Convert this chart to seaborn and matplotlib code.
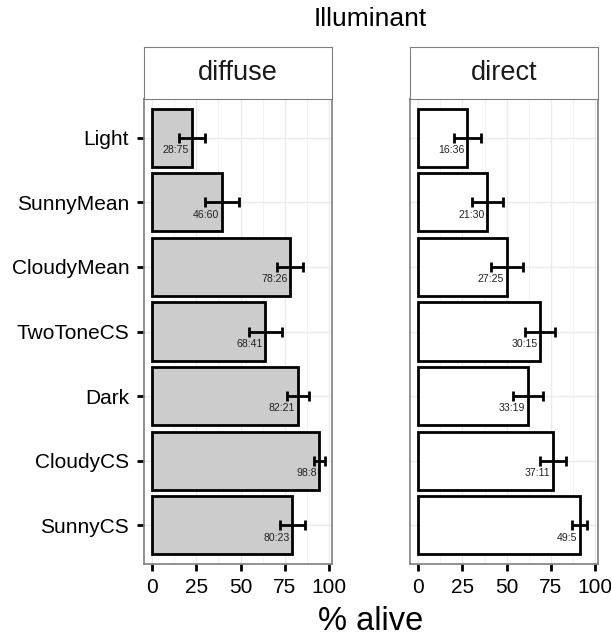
import matplotlib
matplotlib.use("Agg")
import matplotlib.pyplot as plt
import seaborn as sns
import numpy as np
import pandas as pd

# Data
conditions = ["Light", "SunnyMean", "CloudyMean", "TwoToneCS", "Dark", "CloudyCS", "SunnyCS"]

diffuse_alive = [22.5, 39.5, 78.0, 64.0, 82.3, 94.5, 79.3]
diffuse_err = [7.5, 9.7, 7.2, 9.2, 6.2, 3.0, 7.2]
diffuse_counts = ["28:75", "46:60", "78:26", "68:41", "82:21", "98:8", "80:23"]

direct_alive = [27.8, 39.0, 50.0, 68.8, 62.0, 76.0, 91.3]
direct_err = [7.7, 8.8, 9.1, 8.6, 8.5, 7.4, 4.2]
direct_counts = ["16:36", "21:30", "27:25", "30:15", "33:19", "37:11", "49:5"]

panels = [
    ("diffuse", diffuse_alive, diffuse_err, diffuse_counts, "#CCCCCC"),
    ("direct", direct_alive, direct_err, direct_counts, "white"),
]

sns.set_style("white")
plt.rcParams["font.family"] = ["Liberation Sans", "DejaVu Sans"]

W, H = 611, 641
fig = plt.figure(figsize=(W / 100, H / 100), dpi=100)

panel_left = [143.5, 409.7]
panel_w = 188.0
panel_top, panel_bot = 99.0, 564.0
strip_top = 47.3

for i, (name, alive, err, counts, fill) in enumerate(panels):
    x0 = panel_left[i]
    ax = fig.add_axes([x0 / W, (H - panel_bot) / H, panel_w / W, (panel_bot - panel_top) / H])
    df = pd.DataFrame({"condition": conditions, "alive": alive})
    sns.barplot(data=df, x="alive", y="condition", orient="h", color=fill,
                saturation=1, edgecolor="black", linewidth=2.0, width=0.9, ax=ax, zorder=2)
    ypos = np.arange(len(conditions))
    ax.errorbar(alive, ypos, xerr=err, fmt="none", ecolor="black",
                elinewidth=2.0, capsize=3.6, capthick=2.0, zorder=3)
    for y, v, c in zip(ypos, alive, counts):
        ax.text(v - 1.5, y + 0.19, c, ha="right", va="center", fontsize=7.6,
                color="#222222", zorder=4)

    ax.set_xlim(-4.83, 101.4)
    ax.set_ylim(len(conditions) - 1 + 0.6, -0.6)
    ax.set_xticks([0, 25, 50, 75, 100])
    ax.set_xticks([12.5, 37.5, 62.5, 87.5], minor=True)
    ax.set_axisbelow(True)
    ax.grid(True, which="major", color="#EBEBEB", linewidth=1.0)
    ax.grid(True, which="minor", axis="x", color="#F2F2F2", linewidth=0.7)
    for s in ax.spines.values():
        s.set_color("#7F7F7F")
        s.set_linewidth(1.2)
    ax.tick_params(axis="x", which="major", length=4.8, width=2.0, color="black",
                   labelsize=15, labelcolor="black", pad=5.5, bottom=True)
    ax.tick_params(axis="x", which="minor", length=0)
    if i == 0:
        ax.tick_params(axis="y", length=4.8, width=2.0, color="black",
                       labelsize=15, labelcolor="black", pad=5.5, left=True)
    else:
        ax.tick_params(axis="y", left=False, labelleft=False)
    ax.set_xlabel("")
    ax.set_ylabel("")

    # facet strip
    sax = fig.add_axes([x0 / W, (H - panel_top) / H, panel_w / W, (panel_top - strip_top) / H])
    sax.set_xticks([])
    sax.set_yticks([])
    sax.set_facecolor("white")
    for s in sax.spines.values():
        s.set_color("#7F7F7F")
        s.set_linewidth(0.8)
    sax.text(0.5, 0.5, name, ha="center", va="center", fontsize=19.5,
             color="#1A1A1A", transform=sax.transAxes)

fig.text(370.7 / W, 1 - 19 / H, "Illuminant", ha="center", va="center", fontsize=19, color="black")
fig.text(370.7 / W, 1 - 621 / H, "% alive", ha="center", va="center", fontsize=23.5, color="black")

fig.savefig("out.png", dpi=100)
